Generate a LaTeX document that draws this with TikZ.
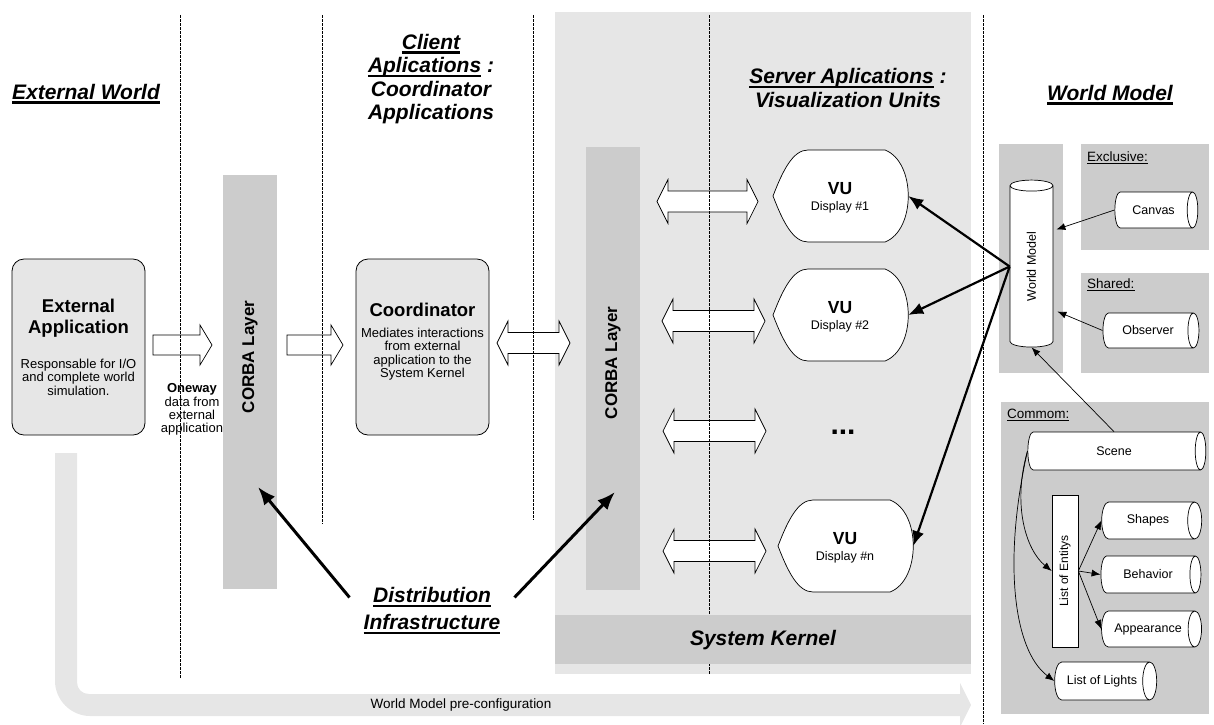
\documentclass[tikz,border=0pt]{standalone}
\usepackage{fontspec}
\setmainfont{Liberation Sans}
\usetikzlibrary{shapes.geometric,arrows.meta,calc}
\definecolor{lg}{HTML}{E6E6E6}
\definecolor{mg}{HTML}{CCCCCC}
\newcommand\fs[2]{\fontsize{#1}{#2}\selectfont}
\newcommand\hul[1]{\setbox0\hbox{#1}\rlap{\rule[-4.5pt]{\wd0}{2.5pt}}\box0}
\newcommand\ulthin[1]{\setbox0\hbox{#1}\rlap{\rule[-2.5pt]{\wd0}{0.8pt}}\box0}
% single block arrow: x1 x2 yc
\newcommand\sarr[3]{\draw[blk] (#1,#3-10) -- (#2-12,#3-10) -- (#2-12,#3-20) -- (#2,#3) -- (#2-12,#3+20) -- (#2-12,#3+10) -- (#1,#3+10) -- cycle;}
% double block arrow: xl xr yc
\newcommand\darr[3]{\draw[blk] (#1,#3) -- (#1+11,#3-22) -- (#1+11,#3-10.5) -- (#2-11,#3-10.5) -- (#2-11,#3-22) -- (#2,#3) -- (#2-11,#3+22) -- (#2-11,#3+10.5) -- (#1+11,#3+10.5) -- (#1+11,#3+22) -- cycle;}
% VU display shape: name x0 ytop label
\newcommand\vu[4]{%
  \draw[line width=0.7pt, fill=white] (#2,#3+46) .. controls (#2+10,#3+20) and (#2+20,#3) .. (#2+35,#3) -- (#2+112,#3) .. controls (#2+143,#3+12) and (#2+143,#3+80) .. (#2+112,#3+92) -- (#2+35,#3+92) .. controls (#2+20,#3+92) and (#2+10,#3+72) .. cycle;
  \node[vutext] (#1) at (#2+67.5,#3+46) {};
  \node[font=\fs{17.5}{18}\bfseries, inner sep=0pt] (#1t) at (#2+67,#3+39) {VU};
  \node[font=\fs{12.5}{14}, inner sep=0pt] (#1d) at (#2+67,#3+57) {Display #4};}
\begin{document}
\begin{tikzpicture}[x=1pt,y=-1pt,
  heading/.style={font=\fs{21}{23.5}\bfseries\itshape, align=center, inner sep=0pt},
  blk/.style={draw, fill=white, line width=0.7pt},
  vline/.style={dash pattern=on 2.5pt off 1.5pt, line width=0.7pt},
  rbox/.style={draw, fill=lg, rounded corners=12pt, line width=0.8pt, minimum width=133pt, minimum height=176pt, inner sep=0pt},
  bar/.style={fill=mg, inner sep=0pt},
  cyl/.style={cylinder, draw, fill=white, line width=0.7pt, aspect=1.2, inner sep=0pt, font=\fs{12.5}{14}},
  vutext/.style={minimum width=135pt, minimum height=92pt, inner sep=0pt},
  thinarr/.style={line width=0.7pt, -{Latex[length=9pt,width=7pt]}},
  thickarr/.style={line width=2.2pt, -{Latex[length=15pt,width=12pt]}},
  distarr/.style={line width=3pt, -{Latex[length=18pt,width=14pt]}},
  lbl/.style={font=\fs{13.5}{15}, inner sep=0pt, anchor=west},
  small/.style={font=\fs{13}{13.4}, align=center, inner sep=0pt},
]
\useasboundingbox (0,0) rectangle (1214,724);

% ---------- background regions ----------
\node[fill=lg, minimum width=416pt, minimum height=662pt, inner sep=0pt, anchor=north west] (server) at (555,12) {};
\fill[mg] (999,144) rectangle (1063,373);
\fill[mg] (1081,144) rectangle (1209,250);
\fill[mg] (1081,273) rectangle (1209,373);
\fill[mg] (1001,402) rectangle (1209,714);
% world model pre-configuration arrow
\fill[lg] (55,453) -- (55,681) .. controls (55,700) and (71,716) .. (90,716) -- (960,716) -- (960,727) -- (971,705) -- (960,683) -- (960,694) -- (89,694) .. controls (82,694) and (77,689) .. (77,682) -- (77,453) -- cycle;
\node[font=\fs{13.5}{15}, inner sep=0pt] (precfg) at (461,705) {World Model pre-configuration};

% ---------- CORBA layers ----------
\node[bar, minimum width=54pt, minimum height=414pt] (corbaL) at (250,382) {};
\node[font=\fs{17}{17}\bfseries, rotate=90, inner sep=0pt] (corbaLt) at (250,357) {CORBA Layer};
\node[bar, minimum width=54pt, minimum height=443pt] (corbaR) at (613,368.5) {};
\node[font=\fs{17}{17}\bfseries, rotate=90, inner sep=0pt] (corbaRt) at (613,363) {CORBA Layer};

% ---------- external application & coordinator ----------
\node[rbox] (extapp) at (78.5,347) {};
\node[font=\fs{18.5}{21}\bfseries, align=center, inner sep=0pt] (extT) at (78.5,318) {External\\Application};
\node[small] (extD) at (78.5,377) {Responsable for I/O\\and complete world\\simulation.};
\node[rbox] (coord) at (422.5,347) {};
\node[font=\fs{18.5}{21}\bfseries, inner sep=0pt] (coordT) at (422.5,310) {Coordinator};
\node[small] (coordD) at (422.5,354) {Mediates interactions\\from external\\application to the\\System Kernel};

\node[small] (oneway) at (192,409.5) {\textbf{Oneway}\\data from\\external\\application};

% ---------- block arrows ----------
\sarr{153}{212}{345}
\sarr{287}{343}{345}
\darr{497}{570}{343}
\darr{657}{758}{201.5}
\darr{662}{765}{321}
\darr{663}{766}{431}
\darr{663}{766}{551}

% ---------- dashed separators ----------
\draw[vline] (180,15) -- (180,678);
\draw[vline] (322,15) -- (322,524);
\draw[vline] (533,15) -- (533,520);
\draw[vline] (709,15) -- (709,674);
\draw[vline] (983,15) -- (983,724);

% ---------- system kernel ----------
\node[fill=mg, minimum width=416pt, minimum height=49pt, inner sep=0pt, anchor=north west] (kernel) at (555,615) {};
\node[heading] (kernelT) at (763,640) {System Kernel};

% ---------- headings ----------
\node[heading] (hew) at (86,94) {\hul{External World}};
\node[heading] (hcl) at (431,79) {\hul{Client}\\\hul{Aplications}~:\\Coordinator\\Applications};
\node[heading] (hsv) at (848,88) {\hul{Server Aplications}~:\\Visualization Units};
\node[heading] (hwm) at (1110,95) {\hul{World Model}};

% ---------- visualization units ----------
\vu{vu1}{773}{150}{\#1}
\vu{vu2}{773}{269}{\#2}
\vu{vun}{778}{500}{\#n}
\node[font=\fs{30}{30}\bfseries, inner sep=0pt] (dots) at (843,432) {...};

% ---------- distribution infrastructure ----------
\node[heading, font=\fs{21}{27}\bfseries\itshape] (dist) at (432,611) {\hul{Distribution}\\\hul{Infrastructure}};
\draw[distarr] ($(dist.north west)+(-14,10)$) -- ($(corbaL.center)+(8,105)$);
\draw[distarr] ($(dist.north east)+(14,10)$) -- ($(corbaR.center)+(2,123.5)$);

% ---------- world model ----------
\node[cyl, rotate=90, minimum height=167pt, minimum width=43pt] (wm) at (1031.5,266.5) {World Model};
\node[lbl] (lexcl) at (1087,158) {\ulthin{Exclusive:}};
\node[lbl] (lshared) at (1087,285) {\ulthin{Shared:}};
\node[lbl] (lcommon) at (1007,415) {\ulthin{Commom:}};
\node[cyl, minimum height=83pt, minimum width=36pt] (canvas) at (1153.5,210) {Canvas};
\node[cyl, minimum height=96pt, minimum width=35pt] (observer) at (1148,330.5) {Observer};
\node[cyl, minimum height=178pt, minimum width=38pt] (scene) at (1114,451) {Scene};
\node[draw, fill=white, line width=0.7pt, rotate=90, minimum width=152pt, minimum height=26pt, inner sep=0pt, font=\fs{12}{14}] (loe) at (1065,571) {List of Entitys};
\node[cyl, minimum height=100pt, minimum width=37pt] (shapes) at (1148,520.5) {Shapes};
\node[cyl, minimum height=100pt, minimum width=37pt] (behavior) at (1148,574.5) {Behavior};
\node[cyl, minimum height=100pt, minimum width=36pt] (appear) at (1148,629) {Appearance};
\node[cyl, minimum height=102pt, minimum width=38pt] (lights) at (1102,681) {List of Lights};

\draw[thinarr] (canvas.west) -- ($(wm.south)+(3,-37)$);
\draw[thinarr] (observer.west) -- ($(wm.south)+(4,45)$);
\draw[thinarr] (scene.north) -- (wm.west);
\draw[thinarr] (scene.west) .. controls (1012,505) and (1026,550) .. (loe.north);
\draw[thinarr] (scene.west) .. controls (1003,560) and (1013,650) .. (lights.west);
\draw[thinarr] (loe.south) -- (shapes.west);
\draw[thinarr] (loe.south) -- (behavior.west);
\draw[thinarr] (loe.south) -- (appear.west);

\draw[thickarr] (wm.north) -- (vu1.east);
\draw[thickarr] (wm.north) -- (vu2.east);
\draw[thickarr] (wm.north) -- (vun.east);
\end{tikzpicture}
\end{document}
